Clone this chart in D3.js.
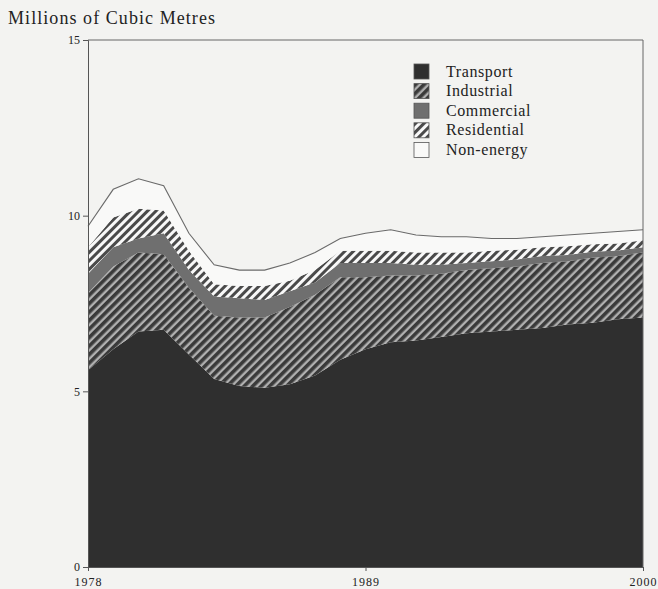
<!DOCTYPE html>
<html><head><meta charset="utf-8">
<script src="https://cdn.jsdelivr.net/npm/d3@7"></script>
<style>
html,body{margin:0;padding:0;background:#f3f3f1;}
svg{display:block;}
text{font-family:"Liberation Serif","DejaVu Serif",serif;fill:#222;}
</style></head>
<body>
<script>
const years = [1978,1979,1980,1981,1982,1983,1984,1985,1986,1987,1988,1989,1990,1991,1992,1993,1994,1995,1996,1997,1998,1999,2000];
const transport  = [5.6,6.2,6.7,6.75,6.05,5.35,5.15,5.1,5.2,5.45,5.9,6.2,6.4,6.45,6.55,6.65,6.7,6.75,6.8,6.9,6.95,7.05,7.1];
const industrial = [2.2,2.35,2.25,2.15,1.9,1.8,1.95,2.0,2.2,2.3,2.35,2.05,1.9,1.85,1.8,1.8,1.8,1.8,1.85,1.8,1.85,1.8,1.85];
const commercial = [0.55,0.55,0.4,0.6,0.5,0.55,0.55,0.5,0.45,0.35,0.4,0.4,0.35,0.3,0.25,0.2,0.2,0.2,0.2,0.18,0.17,0.16,0.15];
const residential= [0.75,0.85,0.85,0.65,0.55,0.35,0.35,0.4,0.3,0.35,0.35,0.35,0.35,0.35,0.35,0.3,0.3,0.28,0.25,0.25,0.22,0.2,0.2];
const nonEnergy  = [0.6,0.8,0.85,0.7,0.5,0.55,0.45,0.45,0.5,0.5,0.35,0.5,0.6,0.5,0.45,0.45,0.35,0.32,0.3,0.32,0.31,0.34,0.3];
const seriesNames = ["Transport","Industrial","Commercial","Residential","Non-energy"];
const yTicks = [0,5,10,15];
const xTicks = [1978,1989,2000];

const W=658,H=589;
const m={l:88,r:15,t:40,b:22};
const svg=d3.select("body").append("svg").attr("width",W).attr("height",H);
const defs=svg.append("defs");
function hatch(id,bg,fg,sw){
  const p=defs.append("pattern").attr("id",id).attr("patternUnits","userSpaceOnUse")
    .attr("width",6).attr("height",6).attr("patternTransform","rotate(45)");
  p.append("rect").attr("width",6).attr("height",6).attr("fill",bg);
  p.append("rect").attr("x",0).attr("width",sw).attr("height",6).attr("fill",fg);
}
hatch("hInd","#b0b0b0","#3a3a3a",3.6);
hatch("hRes","#f8f8f8","#4a4a4a",3.0);

const fills={"Transport":"#2f2f2f","Industrial":"url(#hInd)","Commercial":"#6f6f6f","Residential":"url(#hRes)","Non-energy":"#f9f9f8"};

const table=years.map((yr,i)=>({year:yr,"Transport":transport[i],"Industrial":industrial[i],"Commercial":commercial[i],"Residential":residential[i],"Non-energy":nonEnergy[i]}));
const stacked=d3.stack().keys(seriesNames)(table);

const x=d3.scaleLinear().domain([1978,2000]).range([m.l,W-m.r]);
const y=d3.scaleLinear().domain([0,15]).range([H-m.b,m.t]);

const area=d3.area().x(d=>x(d.data.year)).y0(d=>y(d[0])).y1(d=>y(d[1]));
svg.append("g").selectAll("path").data(stacked).join("path")
  .attr("d",area).attr("fill",d=>fills[d.key]);

const topLayer=stacked[stacked.length-1];
svg.append("path").datum(topLayer).attr("fill","none").attr("stroke","#6a6a6a").attr("stroke-width",1.1)
  .attr("d",d3.line().x(d=>x(d.data.year)).y(d=>y(d[1])));

svg.append("path").attr("fill","none").attr("stroke","#666").attr("stroke-width",1)
  .attr("d",`M${x(1978)},${y(15)}H${x(2000)}V${y(0)}`);

const ya=svg.append("g").attr("transform",`translate(${m.l},0)`)
  .call(d3.axisLeft(y).tickValues(yTicks).tickSize(5).tickPadding(3).tickFormat(d3.format("d")));
ya.select(".domain").attr("stroke","#555");
ya.selectAll(".tick line").attr("stroke","#555");
ya.selectAll("text").style("font-size","12px").attr("fill","#333");

const xa=svg.append("g").attr("transform",`translate(0,${H-m.b})`)
  .call(d3.axisBottom(x).tickValues(xTicks).tickSize(4).tickPadding(6).tickFormat(d3.format("d")));
xa.select(".domain").attr("stroke","#555");
xa.selectAll(".tick line").attr("stroke","#555");
xa.selectAll("text").style("font-size","12px").style("letter-spacing","1px").attr("fill","#333");

svg.append("text").attr("x",8).attr("y",24).style("font-size","18px")
  .attr("textLength",207).attr("lengthAdjust","spacing").text("Millions of Cubic Metres");

const lg=svg.append("g").attr("transform","translate(414,64)");
seriesNames.forEach((k,i)=>{
  const g=lg.append("g").attr("transform",`translate(0,${i*19.6})`);
  g.append("rect").attr("width",15).attr("height",15).attr("fill",fills[k]).attr("stroke","#555").attr("stroke-width",0.8);
  g.append("text").attr("x",32).attr("y",12.5).style("font-size","16px").style("letter-spacing","0.6px").text(k);
});
</script>
</body></html>
